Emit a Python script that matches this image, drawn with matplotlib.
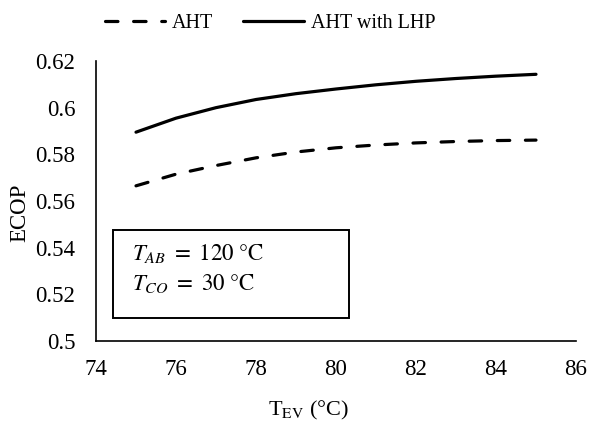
import matplotlib.pyplot as plt
from matplotlib.patches import Rectangle
from matplotlib.ticker import FuncFormatter

t_ev = [75, 76, 77, 78, 79, 80, 81, 82, 83, 84, 85]
ecop_aht = [0.5665, 0.5715, 0.5752, 0.5785, 0.5810, 0.5828, 0.5840, 0.5849, 0.5855, 0.5859, 0.5861]
ecop_lhp = [0.5895, 0.5955, 0.6000, 0.6035, 0.6060, 0.6080, 0.6098, 0.6113, 0.6125, 0.6135, 0.6143]

xticks = [74, 76, 78, 80, 82, 84, 86]
yticks = [0.5, 0.52, 0.54, 0.56, 0.58, 0.6, 0.62]

plt.rcParams['font.family'] = ['Liberation Serif', 'DejaVu Serif']
plt.rcParams['mathtext.fontset'] = 'stix'

fig = plt.figure(figsize=(5.9, 4.25), dpi=100)
ax = fig.add_axes([96 / 590, 1 - 341 / 425, 480 / 590, 280 / 425])

ax.plot(t_ev, ecop_aht, color='black', lw=2.3, dashes=(3.9, 4.9),
        dash_capstyle='round', label='AHT')
ax.plot(t_ev, ecop_lhp, color='black', lw=2.3, solid_capstyle='round',
        label='AHT with LHP')

ax.set_xlim(74, 86)
ax.set_ylim(0.5, 0.62)
ax.set_xticks(xticks)
ax.set_yticks(yticks)
ax.yaxis.set_major_formatter(FuncFormatter(lambda v, p: '%g' % round(v, 2)))
ax.tick_params(axis='both', length=0, labelsize=16.5)
ax.tick_params(axis='x', pad=13)
ax.tick_params(axis='y', pad=15)

for s in ['top', 'right']:
    ax.spines[s].set_visible(False)
for s in ['left', 'bottom']:
    ax.spines[s].set_linewidth(1.2)

# box with conditions
ax.add_patch(Rectangle((0.035, 0.082), 0.492, 0.314, transform=ax.transAxes,
                       fill=False, lw=1.4, ec='black'))
ax.text(0.075, 0.311, r'$T_{AB}\ =\ 120\ \degree\mathrm{C}$', transform=ax.transAxes,
        fontsize=16.5, va='center')
ax.text(0.075, 0.207, r'$T_{CO}\ =\ 30\ \degree\mathrm{C}$', transform=ax.transAxes,
        fontsize=16.5, va='center')

fig.text(308 / 590, 1 - 410 / 425, r'T$_{\mathrm{EV}}$ (°C)', fontsize=16,
         ha='center', va='center')
fig.text(20 / 590, 0.499, 'ECOP', fontsize=16.5, rotation=90,
         ha='center', va='center')

fig.legend(loc='center', bbox_to_anchor=(270 / 590, 1 - 23 / 425), ncol=2,
           frameon=False, fontsize=14.5, handlelength=3, handletextpad=0.35,
           columnspacing=1.5)

fig.savefig('out.png', dpi=100)
